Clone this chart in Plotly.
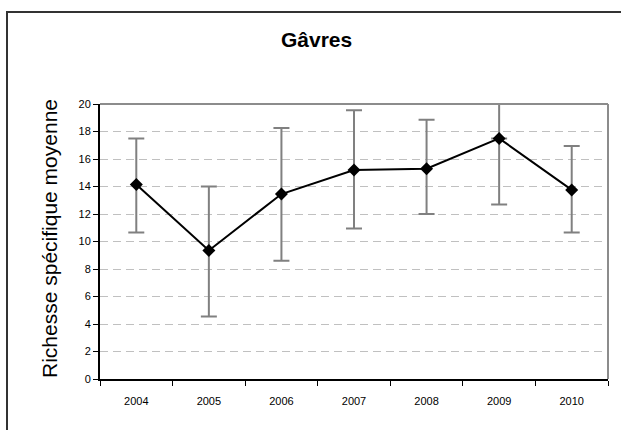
import plotly.graph_objects as go

# ---- data ----
years = ["2004", "2005", "2006", "2007", "2008", "2009", "2010"]
mean_richness = [14.15, 9.35, 13.45, 15.2, 15.3, 17.5, 13.75]
err_up = [3.35, 4.65, 4.8, 4.35, 3.55, 2.9, 3.2]
err_down = [3.5, 4.8, 4.85, 4.25, 3.3, 4.8, 3.1]
top_cap_visible = [True, True, True, True, True, False, True]
y_ticks = [0, 2, 4, 6, 8, 10, 12, 14, 16, 18, 20]

title_text = "Gâvres"
y_title = "Richesse spécifique moyenne"

FONT = "Liberation Sans, Arial, sans-serif"
W, H = 621, 430
L, R, T, B = 100, 13, 104, 51
pw, ph = W - L - R, H - T - B


def px_x(px):
    return (px - L) / pw


def px_y(py):
    return (H - B - py) / ph


up_capped = [u if c else 0 for u, c in zip(err_up, top_cap_visible)]

fig = go.Figure()

# error bars with caps
fig.add_trace(go.Scatter(
    x=years, y=mean_richness, mode="markers",
    marker=dict(size=1, color="rgba(0,0,0,0)"),
    error_y=dict(type="data", symmetric=False, array=up_capped,
                 arrayminus=err_down, color="#808080", thickness=2, width=8),
    cliponaxis=False, hoverinfo="skip", showlegend=False,
))

# uncapped upper error segments
for x, m, u, c in zip(years, mean_richness, err_up, top_cap_visible):
    if not c:
        fig.add_trace(go.Scatter(
            x=[x, x], y=[m, m + u], mode="lines",
            line=dict(color="#808080", width=2),
            cliponaxis=False, hoverinfo="skip", showlegend=False,
        ))

# main series
fig.add_trace(go.Scatter(
    x=years, y=mean_richness, mode="lines+markers",
    line=dict(color="#000000", width=2),
    marker=dict(symbol="diamond", size=10, color="#000000"),
    cliponaxis=False, showlegend=False,
))

fig.update_layout(
    width=W, height=H,
    margin=dict(l=L, r=R, t=T, b=B),
    paper_bgcolor="white", plot_bgcolor="white",
    font=dict(family=FONT, size=11, color="#000000"),
    showlegend=False,
)

fig.update_xaxes(
    type="category", range=[-0.5, 6.5],
    tickson="boundaries", ticks="outside", ticklen=5, tickwidth=1,
    tickcolor="#000000", showline=True, linecolor="#000000", linewidth=2,
    showgrid=False, zeroline=False, ticklabelstandoff=11,
    tickfont=dict(family=FONT, size=11, color="#000000"),
)
fig.update_yaxes(
    range=[0, 20], tickvals=y_ticks, ticks="outside", ticklen=5, tickwidth=1,
    tickcolor="#000000", showline=True, linecolor="#000000", linewidth=2,
    showgrid=True, gridcolor="#c0c0c0", gridwidth=1, griddash="8px,5px",
    zeroline=False,
    tickfont=dict(family=FONT, size=11, color="#000000"),
)

# plot area top/right border (grey)
fig.add_shape(type="line", xref="paper", yref="paper", x0=0, x1=1, y0=1, y1=1,
              line=dict(color="#8c8c8c", width=2), layer="above")
fig.add_shape(type="line", xref="paper", yref="paper", x0=1, x1=1, y0=0, y1=1,
              line=dict(color="#8c8c8c", width=2), layer="above")

# outer chart border
fig.add_shape(type="rect", xref="paper", yref="paper",
              x0=px_x(7), x1=px_x(W + 6), y0=px_y(H + 6), y1=px_y(12),
              line=dict(color="#333333", width=2), fillcolor="rgba(0,0,0,0)")

# title
fig.add_annotation(text=f"<b>{title_text}</b>", xref="paper", yref="paper",
                   x=px_x(316), y=px_y(39), showarrow=False,
                   xanchor="center", yanchor="middle",
                   font=dict(family=FONT, size=21, color="#000000"))

# y-axis title
fig.add_annotation(text=y_title, xref="paper", yref="paper",
                   x=px_x(49), y=px_y(239), showarrow=False, textangle=-90,
                   xanchor="center", yanchor="middle",
                   font=dict(family=FONT, size=21, color="#000000"))

fig.write_html("out.html",
               config={"displayModeBar": False},
               post_script="document.body.style.margin='0';"
                           "document.body.style.overflow='hidden';")
